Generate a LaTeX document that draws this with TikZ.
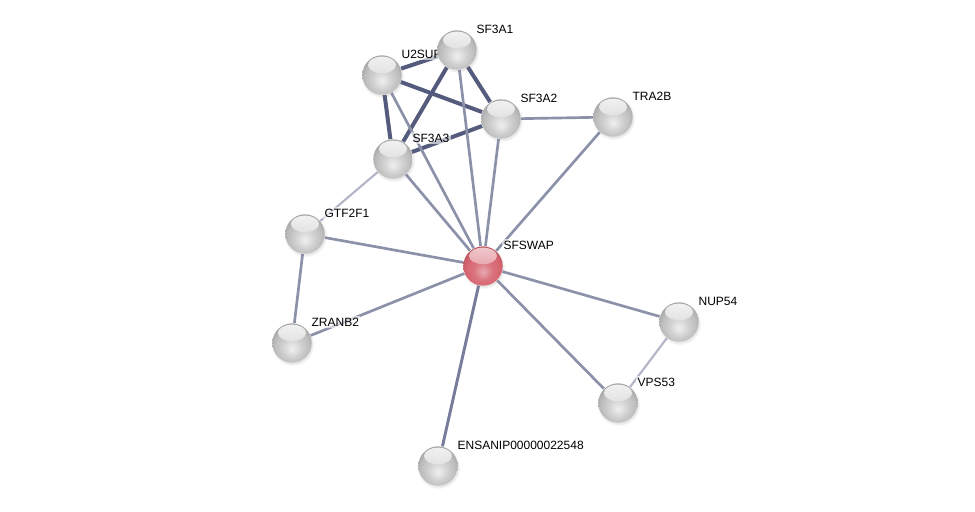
\documentclass[tikz,border=0pt]{standalone}
\usepackage{fontspec}
\setmainfont{Liberation Sans}
\usetikzlibrary{backgrounds,shadows}
\tikzset{every picture/.style={line width=0.75pt}}

\definecolor{edgestrong}{RGB}{84,91,124}
\definecolor{edgemid}{RGB}{140,145,170}
\definecolor{edgedark}{RGB}{118,124,154}
\definecolor{edgelight}{RGB}{178,182,200}
\definecolor{redbody}{RGB}{214,100,112}
\pgfdeclareradialshading{greyball}{\pgfpoint{0bp}{-8bp}}{color(0bp)=(white!94!black); color(12bp)=(white!82!black); color(22bp)=(white!74!black); color(29bp)=(white!64!black); color(33bp)=(white!50!black); color(50bp)=(white!50!black)}
\pgfdeclareradialshading{redball}{\pgfpoint{0bp}{-8bp}}{color(0bp)=(redbody!55!white); color(12bp)=(redbody!90!white); color(22bp)=(redbody); color(29bp)=(redbody!85!black); color(33bp)=(redbody!60!black); color(50bp)=(redbody!60!black)}

\begin{document}
\begin{tikzpicture}[x=0.75pt,y=-0.75pt,
    protein/.style={circle, minimum size=29.5pt, inner sep=0pt, shading=greyball,
      circular drop shadow={shadow xshift=0.4pt, shadow yshift=-1pt, opacity=0.2},
      path picture={\shade[top color=white, bottom color=white!78!black, opacity=0.85]
        ([yshift=-7.2pt]path picture bounding box.north) ellipse (10.5pt and 6.2pt);}},
    query/.style={protein, shading=redball,
      path picture={\shade[top color=white!80!redbody, bottom color=redbody!85!white, opacity=0.85]
        ([yshift=-7.2pt]path picture bounding box.north) ellipse (10.5pt and 6.2pt);}},
    tag/.style={anchor=west, inner sep=1pt, fill=white, fill opacity=0.6, text opacity=1,
      font=\fontsize{9}{10}\selectfont},
    linkstrong/.style={draw=edgestrong, line width=3pt},
    linkmid/.style={draw=edgemid, line width=2pt},
    linkdark/.style={draw=edgedark, line width=2.2pt},
    linklight/.style={draw=edgelight, line width=1.6pt}]
    \useasboundingbox (0,0) rectangle (975,511);

    % Proteins
    \node[protein] (u2surp) at (382,75) {};
    \node[protein] (sf3a1) at (457,50) {};
    \node[protein] (sf3a2) at (501,119) {};
    \node[protein] (sf3a3) at (393,159) {};
    \node[protein] (tra2b) at (613,117) {};
    \node[protein] (gtf2f1) at (305,234) {};
    \node[query] (sfswap) at (483,266) {};
    \node[protein] (zranb2) at (292,343) {};
    \node[protein] (nup54) at (679,322) {};
    \node[protein] (vps53) at (618,403) {};
    \node[protein] (ensanip) at (438,466) {};

    \begin{scope}[on background layer]
    % Splicing complex
    \path[linkstrong] (u2surp) -- (sf3a1);
    \path[linkstrong] (u2surp) -- (sf3a2);
    \path[linkstrong] (u2surp) -- (sf3a3);
    \path[linkstrong] (sf3a1) -- (sf3a2);
    \path[linkstrong] (sf3a1) -- (sf3a3);
    \path[linkstrong] (sf3a2) -- (sf3a3);

    % Links to SFSWAP
    \path[linkmid] (sfswap) -- (u2surp);
    \path[linkmid] (sfswap) -- (sf3a1);
    \path[linkmid] (sfswap) -- (sf3a2);
    \path[linkmid] (sfswap) -- (sf3a3);
    \path[linkmid] (sfswap) -- (tra2b);
    \path[linkmid] (sfswap) -- (gtf2f1);
    \path[linkmid] (sfswap) -- (zranb2);
    \path[linkmid] (sfswap) -- (nup54);
    \path[linkmid] (sfswap) -- (vps53);
    \path[linkdark] (sfswap) -- (ensanip);

    % Other links
    \path[linkmid] (sf3a2) -- (tra2b);
    \path[linklight] (gtf2f1) -- (sf3a3);
    \path[linkmid] (gtf2f1) -- (zranb2);
    \path[linklight] (nup54) -- (vps53);

    % Labels
    \node[tag] (lu2surp) at ([shift={(18,-21)}]u2surp.center) {U2SURP};
    \node[tag] (lsf3a1) at ([shift={(18,-21)}]sf3a1.center) {SF3A1};
    \node[tag] (lsf3a2) at ([shift={(18,-21)}]sf3a2.center) {SF3A2};
    \node[tag] (lsf3a3) at ([shift={(18,-21)}]sf3a3.center) {SF3A3};
    \node[tag] (ltra2b) at ([shift={(18,-21)}]tra2b.center) {TRA2B};
    \node[tag] (lgtf2f1) at ([shift={(18,-21)}]gtf2f1.center) {GTF2F1};
    \node[tag] (lsfswap) at ([shift={(19,-21)}]sfswap.center) {SFSWAP};
    \node[tag] (lzranb2) at ([shift={(18,-21)}]zranb2.center) {ZRANB2};
    \node[tag] (lnup54) at ([shift={(18,-21)}]nup54.center) {NUP54};
    \node[tag] (lvps53) at ([shift={(18,-21)}]vps53.center) {VPS53};
    \node[tag] (lensanip) at ([shift={(18,-21)}]ensanip.center) {ENSANIP00000022548};
    \end{scope}
\end{tikzpicture}
\end{document}
